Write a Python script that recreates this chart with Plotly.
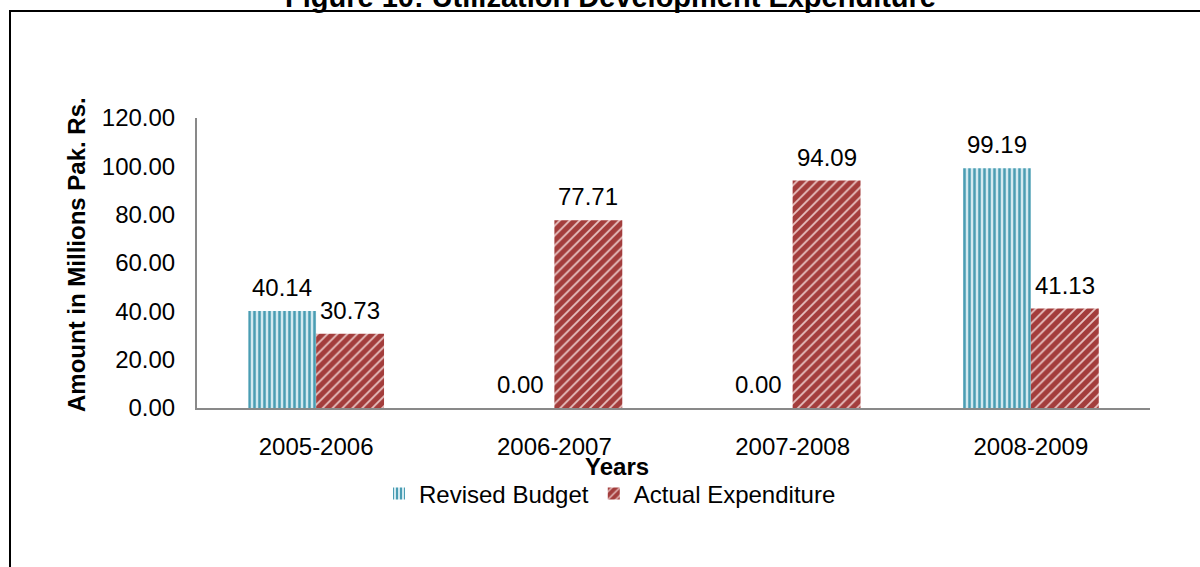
import plotly.graph_objects as go

categories = ["2005-2006", "2006-2007", "2007-2008", "2008-2009"]
revised_budget = [40.14, 0.00, 0.00, 99.19]
actual_expenditure = [30.73, 77.71, 94.09, 41.13]
y_ticks = [0, 20, 40, 60, 80, 100, 120]

FONT = "Arial, Liberation Sans, sans-serif"
FS = 24

fig = go.Figure()
fig.add_trace(go.Bar(
    name="Revised Budget", x=categories, y=revised_budget,
    marker=dict(color="#d2e9f0", line=dict(width=0),
                pattern=dict(shape="|", fgcolor="#4a9db3", bgcolor="#d2e9f0",
                             size=5, solidity=0.5, fillmode="replace")),
))
fig.add_trace(go.Bar(
    name="Actual Expenditure", x=categories, y=actual_expenditure,
    marker=dict(color="#a33d3c", line=dict(width=0),
                pattern=dict(shape="/", fgcolor="#e9c4c3", bgcolor="#a33d3c",
                             size=7, solidity=0.25, fillmode="replace")),
))

L, R, T, B = 197, 1150, 118, 408
W, H = R - L, B - T

def px_x(p):
    return (p - L) / W

def px_y(p):
    return (B - p) / H

annotations = []
for cat, v in zip(categories, revised_budget):
    annotations.append(dict(x=cat, y=v, xref="x", yref="y", text=f"{v:.2f}",
                            showarrow=False, xshift=-34, yshift=8, yanchor="bottom",
                            font=dict(family=FONT, size=FS, color="#000")))
for cat, v in zip(categories, actual_expenditure):
    annotations.append(dict(x=cat, y=v, xref="x", yref="y", text=f"{v:.2f}",
                            showarrow=False, xshift=34, yshift=8, yanchor="bottom",
                            font=dict(family=FONT, size=FS, color="#000")))

# title (partly cut off at top, as in the reference)
annotations.append(dict(x=px_x(610), y=px_y(-3), xref="paper", yref="paper",
                        text="<b>Figure 10: Utilization Development Expenditure</b>",
                        showarrow=False, xanchor="center", yanchor="middle",
                        font=dict(family=FONT, size=29, color="#000")))
# axis titles
annotations.append(dict(x=px_x(617), y=px_y(466), xref="paper", yref="paper", text="<b>Years</b>",
                        showarrow=False, xanchor="center", yanchor="middle",
                        font=dict(family=FONT, size=FS, color="#000")))
annotations.append(dict(x=px_x(77), y=px_y(255), xref="paper", yref="paper",
                        text="<b>Amount in Millions Pak. Rs.</b>", textangle=-90,
                        showarrow=False, xanchor="center", yanchor="middle",
                        font=dict(family=FONT, size=FS, color="#000")))

fig.update_layout(
    width=1200, height=567,
    margin=dict(l=L, r=1200 - R, t=T, b=567 - B),
    paper_bgcolor="white", plot_bgcolor="white",
    barmode="group", bargap=0.43, bargroupgap=0,
    font=dict(family=FONT, size=FS, color="#000"),
    showlegend=True,
    legend=dict(orientation="h", x=px_x(610), xanchor="center", y=px_y(494), yanchor="middle",
                font=dict(family=FONT, size=FS, color="#000"), itemwidth=30,
                bgcolor="rgba(0,0,0,0)"),
    xaxis=dict(showline=True, linecolor="#898989", linewidth=2, showgrid=False,
               ticks="", ticklabelstandoff=16,
               tickfont=dict(family=FONT, size=FS, color="#000")),
    yaxis=dict(range=[0, 120], tickvals=y_ticks, tickformat=".2f",
               showline=True, linecolor="#898989", linewidth=2, showgrid=False,
               zeroline=False, ticks="", ticklabelstandoff=15,
               tickfont=dict(family=FONT, size=FS, color="#000")),
    annotations=annotations,
    shapes=[dict(type="rect", xref="paper", yref="paper",
                 x0=px_x(10), x1=px_x(1215), y0=px_y(590), y1=px_y(11),
                 line=dict(color="black", width=2), fillcolor="rgba(0,0,0,0)", layer="below")],
)

fig.write_html("out.html")
